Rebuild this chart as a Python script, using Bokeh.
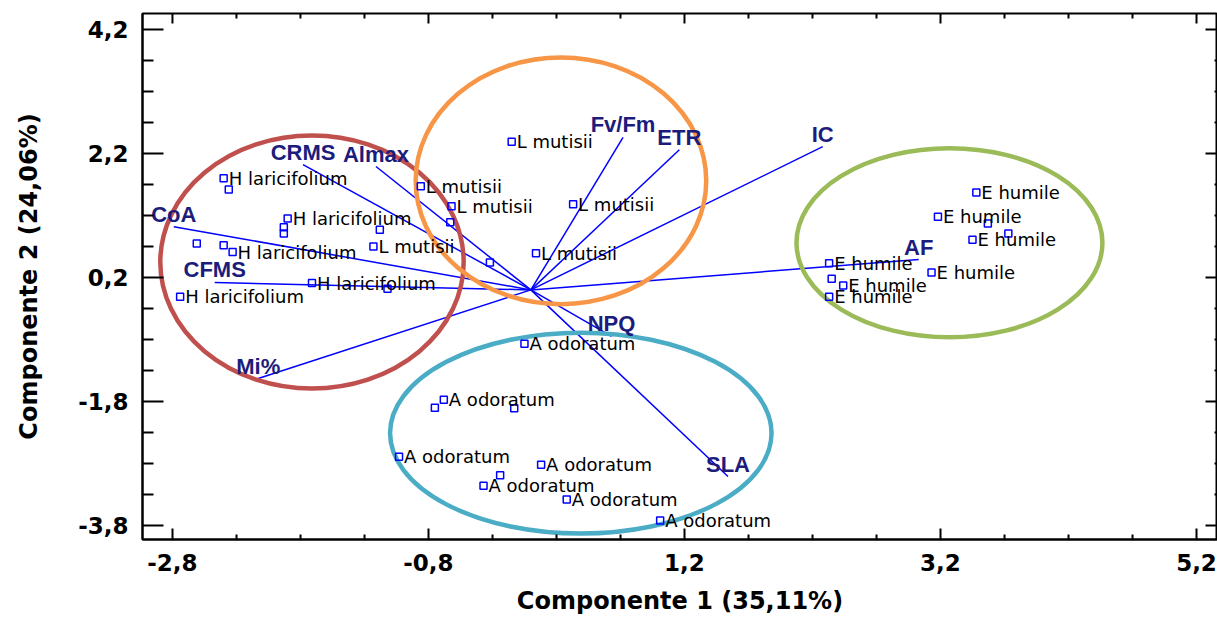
import numpy as np
from bokeh.plotting import figure
from bokeh.models import ColumnDataSource, FixedTicker, CustomJSTickFormatter
from bokeh.core.properties import value
from bokeh.embed import file_html
from bokeh.resources import INLINE

# ---------------- data ----------------
# variable loadings (vector end points)
var_names = ["CRMS", "Almax", "CoA", "CFMS", "Mi%", "Fv/Fm", "ETR", "IC", "AF", "NPQ", "SLA"]
var_x = [-1.78, -1.21, -2.79, -2.47, -2.13, 0.72, 1.16, 2.28, 3.03, 0.63, 1.54]
var_y = [2.02, 1.99, 1.02, 0.12, -1.43, 2.46, 2.26, 2.31, 0.49, -0.75, -3.01]

# sample scores, per species (label_shown: 1 = label drawn)
h_x = [-2.40, -2.36, -1.90, -1.93, -1.93, -2.61, -2.40, -2.33, -1.71, -2.74]
h_y = [1.80, 1.62, 1.15, 1.01, 0.91, 0.75, 0.72, 0.61, 0.11, -0.11]
h_lab = [1, 0, 1, 0, 0, 0, 0, 1, 1, 1]

l_x = [-0.15, -0.86, -0.62, -0.63, 0.33, 0.04, -0.32, -1.23, -1.18, -1.12]
l_y = [2.39, 1.67, 1.35, 1.09, 1.38, 0.59, 0.44, 0.70, 0.97, 0.02]
l_lab = [1, 1, 1, 0, 1, 1, 0, 1, 0, 0]

e_x = [3.48, 3.18, 3.57, 3.73, 3.45, 2.33, 3.13, 2.35, 2.44, 2.33]
e_y = [1.57, 1.18, 1.07, 0.91, 0.81, 0.43, 0.28, 0.18, 0.07, -0.11]
e_lab = [1, 1, 0, 0, 1, 1, 1, 0, 1, 1]

a_x = [-0.05, -0.68, -0.75, -0.13, -1.03, 0.08, -0.24, -0.37, 0.28, 1.01]
a_y = [-0.87, -1.77, -1.90, -1.91, -2.69, -2.82, -2.99, -3.16, -3.38, -3.72]
a_lab = [1, 1, 0, 0, 1, 1, 0, 1, 1, 1]

species = ["H laricifolium", "L mutisii", "E humile", "A odoratum"]

# group ellipses
ell_x = [-1.71, 0.235, 3.27, 0.39]
ell_y = [0.45, 1.76, 0.76, -2.31]
ell_w = [2.37, 2.27, 2.39, 2.98]
ell_h = [4.08, 3.98, 3.05, 3.24]
ell_colors = ["#c0504d", "#f79646", "#9bbb59", "#4bacc6"]

# axis ticks
x_ticks = [-2.8, -0.8, 1.2, 3.2, 5.2]
x_minor = [-2.3, -1.8, -1.3, -0.3, 0.2, 0.7, 1.7, 2.2, 2.7, 3.7, 4.2, 4.7]
y_ticks = [-3.8, -1.8, 0.2, 2.2, 4.2]
y_minor = [-3.3, -2.8, -2.3, -1.3, -0.8, -0.3, 0.7, 1.2, 1.7, 2.7, 3.2, 3.7]
x_lim = (-3.034, 5.364)
y_lim = (-4.026, 4.458)

# ---------------- build sources ----------------
pts_x, pts_y = [], []
lab_x, lab_y, lab_t = [], [], []
for name, xs, ys, labs in zip(species, [h_x, l_x, e_x, a_x], [h_y, l_y, e_y, a_y],
                              [h_lab, l_lab, e_lab, a_lab]):
    for xv, yv, lb in zip(xs, ys, labs):
        pts_x.append(xv)
        pts_y.append(yv)
        if lb:
            lab_x.append(xv)
            lab_y.append(yv)
            lab_t.append(name)

pts = ColumnDataSource(dict(x=pts_x, y=pts_y))
labs_src = ColumnDataSource(dict(x=lab_x, y=lab_y, t=lab_t))
vec = ColumnDataSource(dict(x0=[0.0] * len(var_x), y0=[0.0] * len(var_y),
                            x1=var_x, y1=var_y, name=var_names))
ell = ColumnDataSource(dict(x=ell_x, y=ell_y, w=ell_w, h=ell_h, c=ell_colors))

# ---------------- figure ----------------
p = figure(width=1217, height=619, x_range=x_lim, y_range=y_lim,
           output_backend="svg", toolbar_location=None,
           min_border_left=142, min_border_right=0, min_border_top=13, min_border_bottom=80)
p.grid.visible = False
p.outline_line_color = "black"
p.outline_line_width = 2
p.background_fill_color = "white"
p.border_fill_color = "white"

fmt = CustomJSTickFormatter(code="return tick.toFixed(1).replace('.', ',');")

for ax, tk, mn in [(p.xaxis[0], x_ticks, x_minor), (p.yaxis[0], y_ticks, y_minor)]:
    ax.ticker = FixedTicker(ticks=tk, minor_ticks=mn)
    ax.formatter = fmt
    ax.major_label_text_font = "DejaVu Sans"
    ax.major_label_text_font_style = "bold"
    ax.major_label_text_font_size = "23px"
    ax.major_label_text_color = "black"
    ax.axis_label_text_font = "DejaVu Sans"
    ax.axis_label_text_font_style = "bold"
    ax.axis_label_text_font_size = "24px"
    ax.axis_label_text_color = "black"
    ax.axis_line_width = 2
    ax.major_tick_line_width = 2
    ax.minor_tick_line_width = 2
    ax.major_tick_out = 0
    ax.minor_tick_out = 0

p.xaxis.axis_label = "Componente 1 (35,11%)"
p.yaxis.axis_label = "Componente 2 (24,06%)"
p.xaxis.major_tick_in = 11
p.xaxis.minor_tick_in = 5
p.yaxis.major_tick_in = 21
p.yaxis.minor_tick_in = 11
p.xaxis.major_label_standoff = 14
p.yaxis.major_label_standoff = 14
p.xaxis.axis_label_standoff = 13
p.yaxis.axis_label_standoff = 32

# inward ticks on the top and right frame edges (dash markers clipped by the frame)
p.scatter(x=x_ticks, y=[y_lim[1]] * len(x_ticks), marker="dash", angle=np.pi / 2,
          size=20, line_color="black", line_width=2)
p.scatter(x=x_minor, y=[y_lim[1]] * len(x_minor), marker="dash", angle=np.pi / 2,
          size=10, line_color="black", line_width=2)
p.scatter(x=[x_lim[1]] * len(y_ticks), y=y_ticks, marker="dash",
          size=24, line_color="black", line_width=2)
p.scatter(x=[x_lim[1]] * len(y_minor), y=y_minor, marker="dash",
          size=6, line_color="black", line_width=2)

# vectors
p.segment(x0="x0", y0="y0", x1="x1", y1="y1", source=vec, line_color="#0000ff", line_width=1.5)

# ellipses
p.ellipse(x="x", y="y", width="w", height="h", source=ell, fill_color=None,
          line_color="c", line_width=4.5)

# points
p.scatter(x="x", y="y", source=pts, marker="square", size=7, fill_color=None,
          line_color="#0000ff", line_width=1.5)
p.text(x="x", y="y", text="t", source=labs_src, x_offset=5, text_baseline="middle",
       text_align="left", text_font=value("DejaVu Sans"), text_font_size="18px",
       text_color="black")

# vector labels
p.text(x="x1", y="y1", text="name", source=vec, text_baseline="bottom",
       text_align="center", text_font=value("Liberation Sans"), text_font_style="bold",
       text_font_size="22px", text_color="#1c1c7c")

open("out.html", "w").write(file_html(p, INLINE))
